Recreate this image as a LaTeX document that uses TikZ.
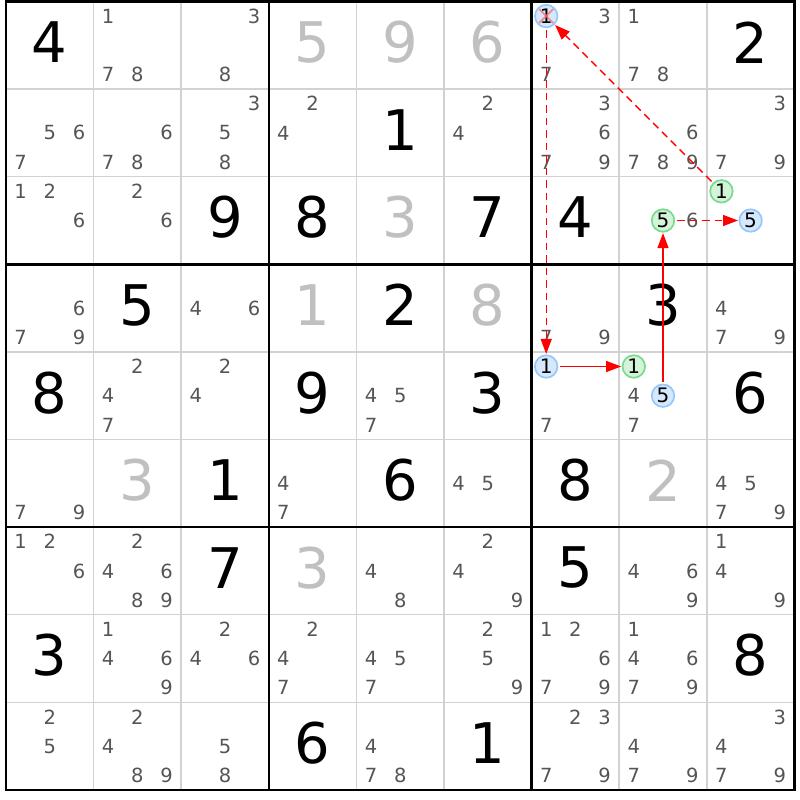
\documentclass[tikz,border=0pt]{standalone}
\usepackage{fontspec}
\setmainfont{DejaVu Sans}
\usetikzlibrary{arrows.meta}
\definecolor{candgray}{RGB}{85,85,85}
\definecolor{solvedgray}{RGB}{192,192,192}
\definecolor{thingrid}{RGB}{210,210,210}
\definecolor{bluefill}{RGB}{214,232,252}
\definecolor{bluedraw}{RGB}{150,200,250}
\definecolor{greenfill}{RGB}{212,244,218}
\definecolor{greendraw}{RGB}{120,220,140}
\definecolor{linkred}{RGB}{255,0,0}
\begin{document}
\begin{tikzpicture}[x=1pt,y=-1pt,
  thinline/.style={draw=thingrid,line width=1.5pt},
  thickline/.style={draw=black,line width=2.6pt},
  cand/.style={text=candgray,font=\fontsize{19.5}{19.5}\selectfont,inner sep=0pt},
  given/.style={text=black,font=\fontsize{56}{56}\selectfont,inner sep=0pt},
  solved/.style={given,text=solvedgray},
  bluec/.style={circle,draw=bluedraw,fill=bluefill,line width=1.7pt,minimum size=22.5pt,inner sep=0pt,text=black,font=\fontsize{20}{20}\selectfont},
  greenc/.style={bluec,draw=greendraw,fill=greenfill},
  strong/.style={draw=linkred,line width=1.3pt,-{Triangle[length=15pt,width=11pt]},shorten <=2pt,shorten >=0.5pt},
  weak/.style={strong,line width=1.4pt,dash pattern=on 7.5pt off 5pt},
  cross/.style={draw=red!60,line width=1.9pt,opacity=0.7},
]
\def\gx{6}\def\gy{1.5}\def\cs{87.6}\def\ss{29.2}
\useasboundingbox (0,0) rectangle (800,800);
\fill[white] (0,0) rectangle (800,800);
% thin lines
\foreach \i in {1,2,4,5,7,8}{
  \draw[thinline] ({\gx+\i*\cs},\gy) -- ({\gx+\i*\cs},{\gy+9*\cs});
  \draw[thinline] (\gx,{\gy+\i*\cs}) -- ({\gx+9*\cs},{\gy+\i*\cs});
}
% thick lines
\foreach \i in {3,6}{
  \draw[thickline] ({\gx+\i*\cs},\gy) -- ({\gx+\i*\cs},{\gy+9*\cs});
  \draw[thickline] (\gx,{\gy+\i*\cs}) -- ({\gx+9*\cs},{\gy+\i*\cs});
}
\draw[thickline] (\gx,\gy) rectangle ({\gx+9*\cs},{\gy+9*\cs});
% given digits
\foreach \r/\c/\d in {0/0/4,0/8/2,1/4/1,2/2/9,2/3/8,2/5/7,2/6/4,3/1/5,3/4/2,3/7/3,4/0/8,4/3/9,4/5/3,4/8/6,5/2/1,5/4/6,5/6/8,6/2/7,6/6/5,7/0/3,7/8/8,8/3/6,8/5/1}{
  \node[given] (g\r\c) at ({\gx+(\c+0.5)*\cs},{\gy+(\r+0.5)*\cs-3}) {\d};
}
% solved digits
\foreach \r/\c/\d in {0/3/5,0/4/9,0/5/6,2/4/3,3/3/1,3/5/8,5/1/3,6/3/3,5/7/2}{
  \node[solved] (s\r\c) at ({\gx+(\c+0.5)*\cs},{\gy+(\r+0.5)*\cs-3}) {\d};
}
% candidates
\foreach \r/\c/\ds in {0/1/{1,7,8},0/2/{3,8},0/6/{3,7},0/7/{1,7,8},
  1/0/{5,6,7},1/1/{6,7,8},1/2/{3,5,8},1/3/{2,4},1/5/{2,4},1/6/{3,6,7,9},1/7/{6,7,8,9},1/8/{3,7,9},
  2/0/{1,2,6},2/1/{2,6},2/7/{6},
  3/0/{6,7,9},3/2/{4,6},3/6/{7,9},3/8/{4,7,9},
  4/1/{2,4,7},4/2/{2,4},4/4/{4,5,7},4/6/{7},4/7/{4,7},
  5/0/{7,9},5/3/{4,7},5/5/{4,5},5/8/{4,5,7,9},
  6/0/{1,2,6},6/1/{2,4,6,8,9},6/4/{4,8},6/5/{2,4,9},6/7/{4,6,9},6/8/{1,4,9},
  7/1/{1,4,6,9},7/2/{2,4,6},7/3/{2,4,7},7/4/{4,5,7},7/5/{2,5,9},7/6/{1,2,6,7,9},7/7/{1,4,6,7,9},
  8/0/{2,5},8/1/{2,4,8,9},8/2/{5,8},8/4/{4,7,8},8/6/{2,3,7,9},8/7/{4,7,9},8/8/{3,4,7,9}}{
  \foreach \d in \ds {
    \pgfmathtruncatemacro\kx{mod(\d-1,3)}
    \pgfmathtruncatemacro\ky{div(\d-1,3)}
    \node[cand] (k\r\c\d) at ({\gx+\c*\cs+(\kx+0.5)*\ss},{\gy+\r*\cs+(\ky+0.5)*\ss}) {\d};
  }
}
% highlighted candidates
\node[bluec]  (cA) at ({\gx+6*\cs+0.5*\ss},{\gy+0*\cs+0.5*\ss}) {1};
\node[bluec]  (cB) at ({\gx+6*\cs+0.5*\ss},{\gy+4*\cs+0.5*\ss}) {1};
\node[greenc] (cC) at ({\gx+7*\cs+0.5*\ss},{\gy+4*\cs+0.5*\ss}) {1};
\node[bluec]  (cD) at ({\gx+7*\cs+1.5*\ss},{\gy+4*\cs+1.5*\ss}) {5};
\node[greenc] (cE) at ({\gx+7*\cs+1.5*\ss},{\gy+2*\cs+1.5*\ss}) {5};
\node[bluec]  (cF) at ({\gx+8*\cs+1.5*\ss},{\gy+2*\cs+1.5*\ss}) {5};
\node[greenc] (cG) at ({\gx+8*\cs+0.5*\ss},{\gy+2*\cs+0.5*\ss}) {1};
% elimination cross
\draw[cross] ([shift={(-7,-7)}]cA.center) -- ([shift={(7,7)}]cA.center);
\draw[cross] ([shift={(-7,7)}]cA.center) -- ([shift={(7,-7)}]cA.center);
% links
\draw[weak] (cG) -- (cA);
\draw[weak] (cA) -- (cB);
\draw[strong] (cB) -- (cC);
\draw[strong] (cD) -- (cE);
\draw[weak] (cE) -- (cF);
\end{tikzpicture}
\end{document}
